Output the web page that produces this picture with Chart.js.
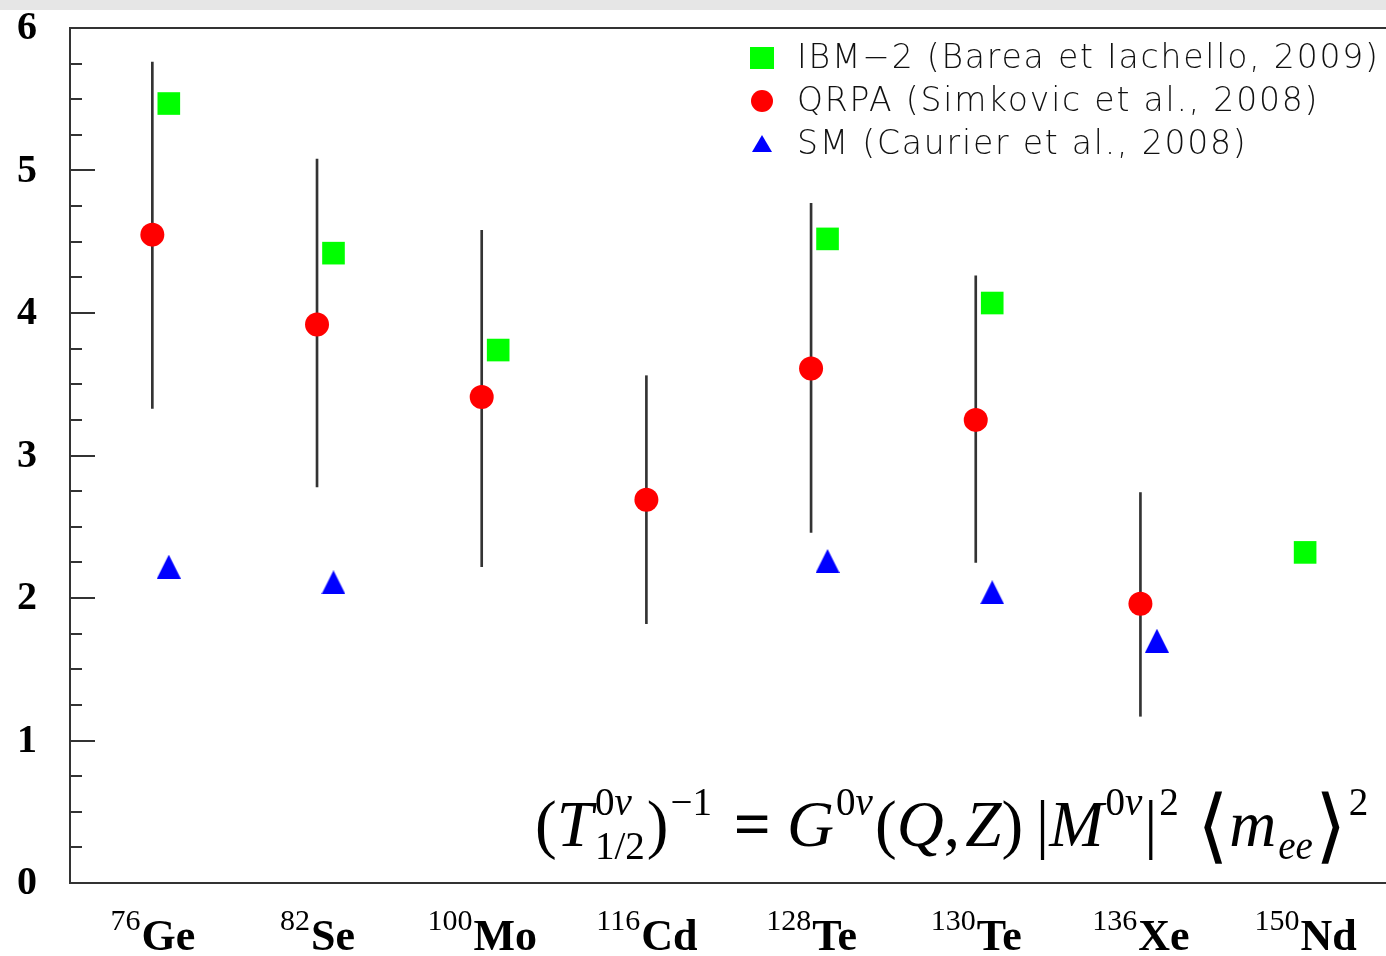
<!DOCTYPE html>
<html>
<head>
<meta charset="utf-8">
<script src="https://cdn.jsdelivr.net/npm/chart.js@4/dist/chart.umd.min.js"></script>
<style>
  html, body { margin: 0; padding: 0; background: #ffffff; }
  #wrap { width: 1386px; height: 956px; position: relative; }
</style>
</head>
<body>
<div id="wrap"><canvas id="c" width="1386" height="956"></canvas></div>
<script>
// Isotopes along the x axis
const massNumbers = ['76', '82', '100', '116', '128', '130', '136', '150'];
const elements    = ['Ge', 'Se', 'Mo', 'Cd', 'Te', 'Te', 'Xe', 'Nd'];

// Half-life predictions per isotope (null = no calculation)
const ibm2     = [5.47, 4.42, 3.74, null, 4.52, 4.07, null, 2.32];
const qrpa     = [4.55, 3.92, 3.41, 2.69, 3.61, 3.25, 1.96, null];
const qrpaLow  = [3.33, 2.78, 2.22, 1.82, 2.46, 2.25, 1.17, null];
const qrpaHigh = [5.76, 5.08, 4.58, 3.56, 4.77, 4.26, 2.74, null];
const sm       = [2.22, 2.11, null, null, 2.26, 2.04, 1.70, null];

// y axis labels
const yTicks = [0, 1, 2, 3, 4, 5, 6];

const seriesLabels = [
  'IBM\u22122 (Barea et Iachello, 2009)',
  'QRPA (Simkovic et al., 2008)',
  'SM (Caurier et al., 2008)'
];

// Side markers sit slightly right of the QRPA column when one is present
const SHIFT = 0.1;
const colX = i => i + (qrpa[i] != null ? SHIFT : 0);

function toPoints(values, xOf) {
  const pts = [];
  values.forEach((v, i) => { if (v != null) pts.push({ x: xOf(i), y: v }); });
  return pts;
}

function triangleSprite(w, h, color) {
  const c = document.createElement('canvas');
  c.width = w; c.height = h;
  const g = c.getContext('2d');
  g.fillStyle = color;
  g.beginPath();
  g.moveTo(w / 2, 0);
  g.lineTo(w, h);
  g.lineTo(0, h);
  g.closePath();
  g.fill();
  return c;
}

const GREEN = '#00ff00', RED = '#ff0000', BLUE = '#0000ff', AXIS = '#333333';
const smMarker = triangleSprite(24, 24, BLUE);
const SERIF = '"Liberation Serif", "DejaVu Serif", serif';

const errorBars = [];
qrpaLow.forEach((lo, i) => { if (lo != null) errorBars.push({ x: i, y: [lo, qrpaHigh[i]] }); });

// Page band, frame lines running to the page edge, inward ticks and y labels
const framePlugin = {
  id: 'frame',
  beforeDraw(chart) {
    const ctx = chart.ctx;
    ctx.save();
    ctx.fillStyle = '#e6e6e6';
    ctx.fillRect(0, 0, chart.width, 10);
    ctx.restore();
  },
  beforeDatasetsDraw(chart) {
    const { ctx, chartArea: a, scales: { y } } = chart;
    ctx.save();
    ctx.strokeStyle = AXIS;
    ctx.lineWidth = 2;
    ctx.beginPath();
    ctx.moveTo(a.left - 1, a.top);
    ctx.lineTo(chart.width, a.top);
    ctx.moveTo(a.left - 1, a.bottom);
    ctx.lineTo(chart.width, a.bottom);
    for (let v = y.min; v <= y.max + 1e-9; v += 0.25) {
      const py = Math.round(y.getPixelForValue(v));
      const len = Math.abs(v - Math.round(v)) < 1e-9 ? 25 : 12;
      ctx.moveTo(a.left, py);
      ctx.lineTo(a.left + len, py);
    }
    ctx.stroke();
    ctx.fillStyle = '#000';
    ctx.font = 'bold 40px ' + SERIF;
    ctx.textAlign = 'right';
    ctx.textBaseline = 'middle';
    yTicks.forEach(v => ctx.fillText(String(v), a.left - 33, y.getPixelForValue(v) + 1));
    ctx.restore();
  }
};

// Isotope labels with mass-number superscripts
const isotopeLabels = {
  id: 'isotopeLabels',
  afterDraw(chart) {
    const { ctx, chartArea: a, scales: { x } } = chart;
    const supFont = '30px ' + SERIF;
    const mainFont = 'bold 44px ' + SERIF;
    ctx.save();
    ctx.fillStyle = '#000';
    ctx.textBaseline = 'alphabetic';
    ctx.textAlign = 'left';
    elements.forEach((el, i) => {
      const cx = x.getPixelForValue(i);
      ctx.font = supFont;
      const w1 = ctx.measureText(massNumbers[i]).width;
      ctx.font = mainFont;
      const w2 = ctx.measureText(el).width;
      const x0 = cx - (w1 + w2) / 2;
      ctx.font = supFont;
      ctx.fillText(massNumbers[i], x0, a.bottom + 47);
      ctx.font = mainFont;
      ctx.fillText(el, x0 + w1 + 1, a.bottom + 67);
    });
    ctx.restore();
  }
};

// Legend box in the upper right of the plot
const cornerLegend = {
  id: 'cornerLegend',
  afterDraw(chart) {
    const { ctx, chartArea: a } = chart;
    const mx = a.left + 692, tx = a.left + 727;
    const rows = [a.top + 30, a.top + 73, a.top + 116];
    ctx.save();
    ctx.fillStyle = GREEN;
    ctx.fillRect(mx - 12, rows[0] - 11, 24, 22);
    ctx.fillStyle = RED;
    ctx.beginPath();
    ctx.arc(mx, rows[1], 11, 0, Math.PI * 2);
    ctx.fill();
    ctx.fillStyle = BLUE;
    ctx.beginPath();
    ctx.moveTo(mx, rows[2] - 9);
    ctx.lineTo(mx + 10, rows[2] + 8);
    ctx.lineTo(mx - 10, rows[2] + 8);
    ctx.closePath();
    ctx.fill();
    ctx.fillStyle = '#111';
    ctx.font = '300 33px "DejaVu Sans", sans-serif';
    ctx.letterSpacing = '1.8px';
    ctx.textBaseline = 'middle';
    ctx.textAlign = 'left';
    seriesLabels.forEach((t, k) => ctx.fillText(t, tx, rows[k] + 1));
    ctx.restore();
  }
};

// Decay-rate relation written in the lower right of the plot
const formulaPlugin = {
  id: 'formula',
  afterDraw(chart) {
    const { ctx, chartArea: a } = chart;
    const R = (t, st, k, fam) => ({ t, st, k: k || 1, fam: fam || SERIF });
    const S = (sup, sub) => ({ sup, sub });
    const G = g => ({ gap: g });
    const BR = '"DejaVu Sans", sans-serif';
    const nu = () => [R('0', 'normal'), R('\u03BD', 'italic')];
    const items = [
      R('(', 'normal'), R('T', 'italic'), S(nu(), [R('1/2', 'normal')]), R(')', 'normal'),
      S([R('\u22121', 'normal')], null),
      G(0.3), R('=', 'bold'), G(0.25),
      R('G', 'italic'), S(nu(), null),
      R('(', 'normal'), R('Q', 'italic'), R(',', 'normal'), G(0.08), R('Z', 'italic'), R(')', 'normal'),
      G(0.2), R('|', 'normal'), R('M', 'italic'), S(nu(), null), R('|', 'normal'), S([R('2', 'normal')], null),
      G(0.25), R('\u27E8', '200', 1.25, BR), R('m', 'italic'), S(null, [R('ee', 'italic')]), R('\u27E9', '200', 1.25, BR),
      S([R('2', 'normal')], null)
    ];
    const fontOf = (r, size) => `${r.st} ${size * r.k}px ${r.fam}`;
    function layout(size, draw, x0, base) {
      let x = x0;
      const small = size * 0.6;
      items.forEach(it => {
        if (it.gap != null) { x += it.gap * size; return; }
        if (it.t != null) {
          ctx.font = fontOf(it, size);
          if (draw) ctx.fillText(it.t, x, base + (it.k > 1 ? size * 0.1 : 0));
          x += ctx.measureText(it.t).width;
          return;
        }
        let w = 0;
        [[it.sup, -0.47], [it.sub, 0.2]].forEach(([runs, dy]) => {
          if (!runs) return;
          let xx = x + 2;
          runs.forEach(r => {
            ctx.font = fontOf(r, small);
            if (draw) ctx.fillText(r.t, xx, base + dy * size);
            xx += ctx.measureText(r.t).width;
          });
          w = Math.max(w, xx - x);
        });
        x += w + 2;
      });
      return x - x0;
    }
    ctx.save();
    ctx.fillStyle = '#000';
    ctx.textBaseline = 'alphabetic';
    ctx.textAlign = 'left';
    const left = a.left + 465, right = a.left + 1302;
    const w0 = layout(60, false, 0, 0);
    const size = 60 * (right - left) / w0;
    layout(size, true, left, a.bottom - 37);
    ctx.restore();
  }
};

new Chart(document.getElementById('c'), {
  type: 'scatter',
  data: {
    datasets: [
      {
        type: 'bar',
        label: 'QRPA range',
        data: errorBars,
        backgroundColor: AXIS,
        borderWidth: 0,
        barThickness: 2,
        grouped: false,
        order: 10
      },
      {
        label: seriesLabels[0],
        data: toPoints(ibm2, colX),
        pointStyle: 'rect',
        pointRadius: 16,
        backgroundColor: GREEN,
        borderWidth: 0,
        order: 2
      },
      {
        label: seriesLabels[1],
        data: toPoints(qrpa, i => i),
        pointStyle: 'circle',
        pointRadius: 12,
        backgroundColor: RED,
        borderWidth: 0,
        order: 1
      },
      {
        label: seriesLabels[2],
        data: toPoints(sm, colX),
        pointStyle: smMarker,
        pointRadius: 12,
        backgroundColor: BLUE,
        borderWidth: 0,
        order: 3
      }
    ]
  },
  options: {
    responsive: false,
    animation: false,
    events: [],
    layout: { padding: { left: 70, top: 28, right: 0, bottom: 73 } },
    plugins: { legend: { display: false }, tooltip: { enabled: false } },
    scales: {
      x: {
        type: 'linear',
        offset: false,
        min: -0.5,
        max: 7.394,
        ticks: { display: false },
        grid: { display: false, drawTicks: false, offset: false },
        border: { display: true, color: AXIS, width: 2 }
      },
      y: {
        min: 0,
        max: 6,
        ticks: { display: false },
        grid: { display: false, drawTicks: false },
        border: { display: true, color: AXIS, width: 2 }
      }
    }
  },
  plugins: [framePlugin, isotopeLabels, cornerLegend, formulaPlugin]
});
</script>
</body>
</html>
